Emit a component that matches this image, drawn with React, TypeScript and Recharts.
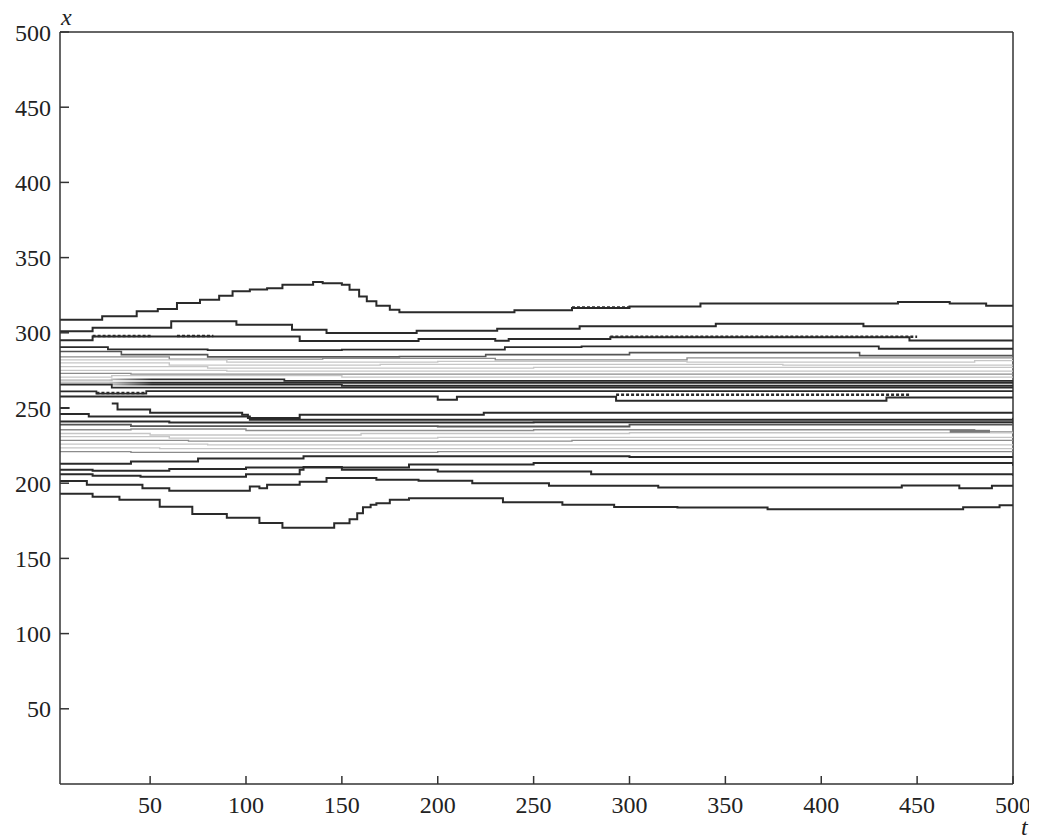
import { LineChart, Line, XAxis, YAxis, ReferenceLine } from "recharts";

type Pt = [number, number];

// axis ticks
const tTicks = [50, 100, 150, 200, 250, 300, 350, 400, 450, 500];
const xTicks = [50, 100, 150, 200, 250, 300, 350, 400, 450, 500];

// contour lines, [t, x] pairs, read left to right
const outerTop: Pt[] = [[3, 308.7], [25, 311], [43, 314.3], [54, 315.8], [64, 319.8], [76, 322], [86, 324.7], [93, 327.6], [102, 328.8], [111, 329.7], [119, 331.9], [135, 333.7], [140, 333], [150, 331.9], [154, 328.7], [159, 324.2], [163, 320.9], [168, 318], [175, 315.4], [180, 313.6], [240, 315], [270, 316.5], [300, 317.5], [337, 319.4], [440, 320.5], [467, 319.4], [486, 318], [500, 318]];
const lineB: Pt[] = [[3, 301], [20, 303.4], [61, 307.6], [95, 305.4], [124, 302], [142, 299.8], [189, 301.4], [231, 302.7], [274, 304.3], [345, 306], [422, 304.3], [500, 304.3]];
const lineC: Pt[] = [[3, 295], [20, 297.5], [128, 294.6], [190, 295.8], [230, 294.7], [237, 295.8], [290, 297], [446, 294.8], [500, 294.8]];
const lineD: Pt[] = [[3, 290.5], [28, 289], [80, 288.5], [150, 288.8], [235, 290.5], [275, 291], [430, 289.4], [500, 289.4]];
const lineD2: Pt[] = [[3, 287.6], [35, 285.5], [80, 284], [180, 284.2], [225, 285.5], [300, 286.8], [420, 284.8], [500, 284.8]];

const upper1: Pt[] = [[3, 284], [60, 282.5], [140, 283], [230, 282], [330, 283.3], [500, 282.5]];
const upper2: Pt[] = [[3, 282], [90, 280.5], [200, 281], [330, 280.5], [480, 281.5], [500, 281.5]];
const upper3: Pt[] = [[3, 280], [60, 278.5], [170, 279], [380, 278.5], [500, 279]];
const upper4: Pt[] = [[3, 277.5], [80, 276.5], [250, 277], [500, 276.5]];
const upper5: Pt[] = [[3, 275], [90, 274.5], [270, 274.5], [500, 274.5]];
const upper6: Pt[] = [[3, 273], [40, 272.5], [260, 272.5], [500, 272.5]];
const upper7: Pt[] = [[3, 270.5], [30, 271.5], [150, 270.5], [500, 270.5]];

const band1: Pt[] = [[3, 268.5], [30, 269], [120, 268], [250, 268], [500, 267.5]];
const band2: Pt[] = [[3, 267], [30, 266.8], [500, 266.2]];
const band3: Pt[] = [[3, 266], [30, 265.5], [150, 264.8], [500, 264.8]];
const band4: Pt[] = [[3, 265.5], [30, 263.5], [120, 263.5], [500, 263.2]];
const band5: Pt[] = [[3, 261], [22, 259.5], [48, 261.2], [500, 261.2]];
const lineM: Pt[] = [[3, 257.7], [200, 255.5], [210, 257.5], [293, 254.8], [434, 257], [500, 257]];
const hook: Pt[] = [[30, 253], [33, 249], [50, 246.8], [98, 245.5], [101, 243.3], [128, 245.5], [224, 246.8], [500, 247]];
const lineJ: Pt[] = [[3, 246], [18, 244.3], [102, 242.2], [200, 242.2], [500, 243.5]];
const lineK: Pt[] = [[3, 241], [60, 240.3], [250, 240.5], [500, 241]];
const lineK2: Pt[] = [[3, 239], [40, 238], [200, 237.7], [300, 239], [500, 239]];
const stub: Pt[] = [[3, 250], [8, 250]];

const lower1: Pt[] = [[3, 235.5], [40, 236], [100, 235], [250, 235.5], [480, 234], [500, 235]];
const lower2: Pt[] = [[3, 233], [50, 232], [160, 233], [300, 233.5], [500, 233]];
const lower3: Pt[] = [[3, 231], [60, 230], [200, 230.5], [500, 231]];
const lower4: Pt[] = [[3, 228.5], [70, 228], [270, 228.5], [500, 228.5]];
const lower5: Pt[] = [[3, 226], [80, 225.5], [500, 226]];
const lower6: Pt[] = [[3, 223.5], [55, 223], [500, 223.5]];
const lower7: Pt[] = [[3, 221], [40, 220.5], [200, 221], [500, 221]];
const blob: Pt[] = [[467, 234.5], [488, 234.5]];

const lineN1: Pt[] = [[3, 213], [40, 214.5], [75, 216.5], [130, 218], [300, 217.5], [500, 217]];
const lineN2: Pt[] = [[3, 209], [20, 208.2], [60, 209.5], [100, 210.5], [185, 212.5], [250, 213.4], [500, 211.6]];
const lineG: Pt[] = [[3, 206], [20, 205], [45, 204.3], [100, 206], [128, 208.9], [130, 210.7], [150, 208.9], [200, 207.8], [280, 206], [500, 205]];
const lineF: Pt[] = [[3, 201.5], [17, 199], [46, 196.7], [60, 195], [102, 197.8], [107, 196.7], [111, 199], [128, 201], [142, 203.4], [168, 202.3], [190, 201.6], [218, 200], [258, 198.3], [315, 197.2], [442, 198.4], [472, 196.7], [489, 198.3], [500, 198.3]];
const outerBottom: Pt[] = [[3, 193], [20, 191], [34, 189], [55, 184.3], [72, 179.6], [90, 177], [107, 173.6], [119, 170.3], [146, 173.4], [154, 176], [158, 180], [161, 184], [165, 185.6], [168, 186.7], [175, 189], [185, 190], [234, 187.4], [265, 185.6], [292, 184.2], [325, 183.8], [372, 182.7], [474, 184], [493, 185.4], [500, 185.4]];

// doubled (dotted-looking) stretches
const dashA: Pt[] = [[270, 316.9], [300, 316.9]];
const dashC1: Pt[] = [[20, 297.9], [51, 297.9]];
const dashC2: Pt[] = [[64, 297.9], [83, 297.9]];
const dashC3: Pt[] = [[290, 297.4], [450, 297.4]];
const dashB5: Pt[] = [[22, 259.9], [48, 259.9]];
const dashM: Pt[] = [[293, 258.8], [446, 258.8]];

const dark = "#2a2a2a";
const mid = "#8c8c8c";
const light = "#c6c6c6";
const fade = "url(#fadeIn)";

const series = [
  { id: "outerTop", pts: outerTop, stroke: dark, w: 2 },
  { id: "B", pts: lineB, stroke: dark, w: 2 },
  { id: "C", pts: lineC, stroke: dark, w: 2 },
  { id: "D", pts: lineD, stroke: dark, w: 1.8 },
  { id: "D2", pts: lineD2, stroke: "#555", w: 1.6 },
  { id: "u1", pts: upper1, stroke: mid, w: 1.4 },
  { id: "u2", pts: upper2, stroke: light, w: 1.4 },
  { id: "u3", pts: upper3, stroke: light, w: 1.4 },
  { id: "u4", pts: upper4, stroke: light, w: 1.4 },
  { id: "u5", pts: upper5, stroke: light, w: 1.4 },
  { id: "u6", pts: upper6, stroke: mid, w: 1.4 },
  { id: "u7", pts: upper7, stroke: light, w: 1.4 },
  { id: "b1", pts: band1, stroke: fade, w: 1.8 },
  { id: "b2", pts: band2, stroke: fade, w: 1.8 },
  { id: "b3", pts: band3, stroke: fade, w: 1.8 },
  { id: "b4", pts: band4, stroke: dark, w: 1.8 },
  { id: "b5", pts: band5, stroke: dark, w: 1.8 },
  { id: "M", pts: lineM, stroke: dark, w: 2 },
  { id: "hook", pts: hook, stroke: dark, w: 2 },
  { id: "J", pts: lineJ, stroke: dark, w: 2 },
  { id: "K", pts: lineK, stroke: dark, w: 2 },
  { id: "K2", pts: lineK2, stroke: "#555", w: 1.8 },
  { id: "stub", pts: stub, stroke: dark, w: 2 },
  { id: "l1", pts: lower1, stroke: mid, w: 1.4 },
  { id: "l2", pts: lower2, stroke: light, w: 1.4 },
  { id: "l3", pts: lower3, stroke: light, w: 1.4 },
  { id: "l4", pts: lower4, stroke: mid, w: 1.4 },
  { id: "l5", pts: lower5, stroke: light, w: 1.4 },
  { id: "l6", pts: lower6, stroke: light, w: 1.4 },
  { id: "l7", pts: lower7, stroke: mid, w: 1.4 },
  { id: "blob", pts: blob, stroke: "#777", w: 3 },
  { id: "N1", pts: lineN1, stroke: dark, w: 2 },
  { id: "N2", pts: lineN2, stroke: dark, w: 2 },
  { id: "G", pts: lineG, stroke: dark, w: 2 },
  { id: "F", pts: lineF, stroke: dark, w: 2 },
  { id: "outerBottom", pts: outerBottom, stroke: dark, w: 2 },
  { id: "dA", pts: dashA, stroke: dark, w: 2.5, dash: "3 2" },
  { id: "dC1", pts: dashC1, stroke: dark, w: 2.5, dash: "3 2" },
  { id: "dC2", pts: dashC2, stroke: dark, w: 2.5, dash: "3 2" },
  { id: "dC3", pts: dashC3, stroke: dark, w: 2.5, dash: "3 2" },
  { id: "dB5", pts: dashB5, stroke: dark, w: 2.5, dash: "3 2" },
  { id: "dM", pts: dashM, stroke: dark, w: 2.5, dash: "3 2" },
];

const toRows = (pts: Pt[]) => pts.map(([t, x]) => ({ t, x }));

const font = "'Times New Roman', 'Liberation Serif', Times, serif";

const BottomTick = (props: any) => (
  <text
    x={props.x}
    y={props.y}
    dy="0.71em"
    textAnchor="middle"
    fill="#222"
    style={{ fontFamily: font, fontSize: 24 }}
  >
    {props.payload.value}
  </text>
);

const LeftTick = (props: any) => (
  <text
    x={props.x}
    y={props.y}
    dy="0.355em"
    textAnchor="end"
    fill="#222"
    style={{ fontFamily: font, fontSize: 24 }}
  >
    {props.payload.value}
  </text>
);

const axisLabel = {
  position: "absolute" as const,
  fontFamily: font,
  fontStyle: "italic",
  fontSize: 24,
  lineHeight: "14px",
  color: "#222",
};

export default function App() {
  return (
    <div style={{ position: "relative", width: 1029, height: 830, fontFamily: font }}>
      <LineChart
        width={1029}
        height={830}
        margin={{ top: 24, right: 24, bottom: 8, left: 0 }}
      >
        <defs>
          <linearGradient id="fadeIn" gradientUnits="userSpaceOnUse" x1={52} y1={0} x2={160} y2={0}>
            <stop offset="0.45" stopColor={light} />
            <stop offset="0.85" stopColor={dark} />
          </linearGradient>
        </defs>
        <XAxis
          dataKey="t"
          type="number"
          domain={[3, 500]}
          ticks={tTicks}
          allowDataOverflow
          height={46}
          tickSize={-8}
          tickMargin={20}
          tick={<BottomTick />}
          axisLine={{ stroke: "#333", strokeWidth: 1.5 }}
          tickLine={{ stroke: "#333", strokeWidth: 1.5 }}
        />
        <YAxis
          type="number"
          domain={[0, 500]}
          ticks={xTicks}
          allowDataOverflow
          width={52}
          tickSize={-9}
          tickMargin={18}
          tick={<LeftTick />}
          axisLine={{ stroke: "#333", strokeWidth: 1.5 }}
          tickLine={{ stroke: "#333", strokeWidth: 1.5 }}
        />
        <ReferenceLine y={500} stroke="#333" strokeWidth={1.5} />
        <ReferenceLine x={500} stroke="#333" strokeWidth={1.5} />
        {series.map((s) => (
          <Line
            key={s.id}
            data={toRows(s.pts)}
            dataKey="x"
            type="stepAfter"
            stroke={s.stroke}
            strokeWidth={s.w}
            strokeDasharray={s.dash}
            dot={false}
            activeDot={false}
            isAnimationActive={false}
          />
        ))}
      </LineChart>
      <span style={{ ...axisLabel, left: 53, top: 2 }}>x</span>
      <span style={{ ...axisLabel, left: 1013, top: 812 }}>t</span>
    </div>
  );
}
